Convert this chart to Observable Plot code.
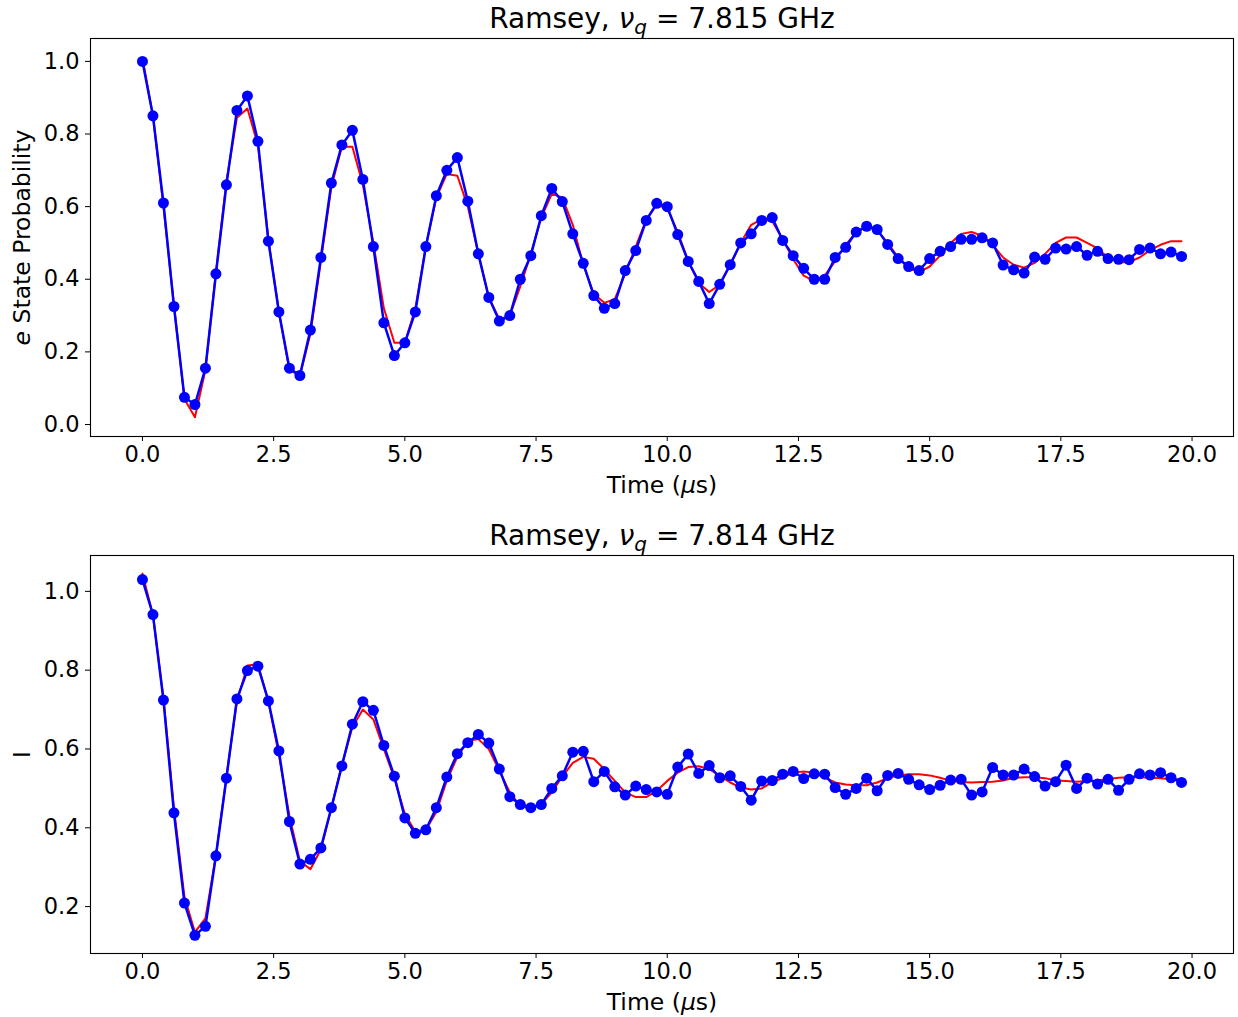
<!DOCTYPE html>
<html>
<head>
<meta charset="utf-8">
<script src="https://cdn.jsdelivr.net/npm/d3@7"></script>
<script src="https://cdn.jsdelivr.net/npm/@observablehq/plot@0.6"></script>
<style>
  html, body { margin: 0; padding: 0; background: white; }
  #chart svg { display: block; }
</style>
</head>
<body>
<div id="chart"></div>
<script>
// ---- data ----
const time = [0,0.2,0.4,0.6,0.8,1,1.2,1.4,1.6,1.8,2,2.2,2.4,2.6,2.8,3,3.2,3.4,3.6,3.8,
  4,4.2,4.4,4.6,4.8,5,5.2,5.4,5.6,5.8,6,6.2,6.4,6.6,6.8,7,7.2,7.4,7.6,7.8,
  8,8.2,8.4,8.6,8.8,9,9.2,9.4,9.6,9.8,10,10.2,10.4,10.6,10.8,11,11.2,11.4,11.6,11.8,
  12,12.2,12.4,12.6,12.8,13,13.2,13.4,13.6,13.8,14,14.2,14.4,14.6,14.8,15,15.2,15.4,15.6,15.8,
  16,16.2,16.4,16.6,16.8,17,17.2,17.4,17.6,17.8,18,18.2,18.4,18.6,18.8,19,19.2,19.4,19.6,19.8];

const probMeasured = [1.0,0.85,0.61,0.325,0.075,0.055,0.155,0.415,0.66,0.865,
  0.905,0.78,0.505,0.31,0.155,0.135,0.26,0.46,0.665,0.77,
  0.81,0.675,0.49,0.28,0.19,0.225,0.31,0.49,0.63,0.70,
  0.735,0.615,0.47,0.35,0.285,0.30,0.40,0.465,0.575,0.65,
  0.614,0.525,0.444,0.355,0.32,0.333,0.424,0.479,0.562,0.609,
  0.60,0.523,0.449,0.394,0.333,0.386,0.44,0.50,0.525,0.562,
  0.57,0.507,0.465,0.43,0.40,0.40,0.46,0.488,0.53,0.546,
  0.537,0.496,0.457,0.435,0.424,0.457,0.477,0.49,0.51,0.51,
  0.514,0.50,0.439,0.426,0.417,0.461,0.455,0.486,0.483,0.49,
  0.466,0.477,0.457,0.455,0.454,0.482,0.486,0.47,0.475,0.463];

const probFit = [1.01,0.85,0.60,0.33,0.07,0.02,0.15,0.42,0.67,0.845,
  0.87,0.77,0.51,0.31,0.15,0.135,0.25,0.45,0.655,0.765,
  0.765,0.66,0.50,0.32,0.225,0.225,0.32,0.49,0.625,0.69,
  0.685,0.60,0.47,0.35,0.29,0.30,0.38,0.47,0.57,0.635,
  0.625,0.55,0.44,0.36,0.335,0.345,0.415,0.49,0.565,0.605,
  0.595,0.53,0.45,0.39,0.365,0.385,0.44,0.50,0.55,0.565,
  0.56,0.51,0.455,0.41,0.395,0.41,0.45,0.495,0.53,0.545,
  0.535,0.50,0.46,0.43,0.42,0.435,0.465,0.50,0.525,0.53,
  0.52,0.495,0.46,0.44,0.432,0.445,0.47,0.50,0.515,0.515,
  0.50,0.485,0.46,0.447,0.447,0.46,0.48,0.495,0.505,0.505];

const iMeasured = [1.03,0.941,0.724,0.438,0.209,0.127,0.15,0.329,0.526,0.727,
  0.799,0.81,0.722,0.595,0.416,0.308,0.32,0.349,0.451,0.557,
  0.663,0.72,0.698,0.609,0.531,0.425,0.386,0.395,0.451,0.529,
  0.588,0.616,0.637,0.615,0.549,0.479,0.459,0.451,0.459,0.50,
  0.532,0.592,0.594,0.517,0.543,0.504,0.483,0.506,0.497,0.491,
  0.485,0.554,0.587,0.538,0.558,0.527,0.532,0.505,0.47,0.519,
  0.52,0.536,0.543,0.525,0.537,0.536,0.502,0.485,0.50,0.526,
  0.494,0.533,0.538,0.523,0.509,0.497,0.508,0.521,0.523,0.483,
  0.491,0.553,0.534,0.534,0.549,0.53,0.506,0.517,0.559,0.50,
  0.526,0.511,0.523,0.495,0.523,0.537,0.534,0.54,0.527,0.515];

const iFit = [1.045,0.94,0.73,0.45,0.225,0.135,0.17,0.33,0.53,0.72,
  0.812,0.815,0.72,0.585,0.43,0.315,0.295,0.345,0.45,0.56,
  0.655,0.70,0.675,0.60,0.525,0.435,0.39,0.395,0.44,0.52,
  0.58,0.62,0.625,0.60,0.545,0.49,0.455,0.448,0.46,0.49,
  0.53,0.565,0.58,0.575,0.549,0.519,0.49,0.478,0.478,0.494,
  0.519,0.54,0.554,0.556,0.549,0.532,0.515,0.502,0.497,0.50,
  0.515,0.527,0.54,0.543,0.54,0.527,0.515,0.51,0.508,0.508,
  0.515,0.526,0.533,0.536,0.536,0.533,0.527,0.519,0.516,0.515,
  0.516,0.517,0.52,0.527,0.528,0.528,0.526,0.52,0.519,0.517,
  0.519,0.52,0.524,0.527,0.528,0.528,0.527,0.526,0.523,0.523];

const xTicks = [0, 2.5, 5, 7.5, 10, 12.5, 15, 17.5, 20];
const probTicks = [0, 0.2, 0.4, 0.6, 0.8, 1.0];
const iTicks = [0.2, 0.4, 0.6, 0.8, 1.0];

const titleLead = "Ramsey, ";
const titleSymbol = "ν";
const titleSub = "q";
const titleTails = [" = 7.815 GHz", " = 7.814 GHz"];
const xLabelParts = ["Time (", "μ", "s)"];
const yLabels = [["e", " State Probability"], ["", "I"]];

// ---- drawing ----
const FONT = "DejaVu Sans";

function panel(measured, fit, yDomain, yTicks, yLabel, titleTail, height, marginBottom) {
  const rows = time.map((t, i) => ({t, v: measured[i], f: fit[i]}));
  const titleStr = titleLead + titleSymbol + titleSub + titleTail;
  const xLabelStr = xLabelParts.join("");
  const yLabelStr = yLabel.join("");
  const svg = Plot.plot({
    width: 1238,
    height,
    marginTop: 38,
    marginLeft: 90,
    marginRight: 5,
    marginBottom,
    style: {fontFamily: FONT, fontSize: "22px", background: "white", color: "black", overflow: "visible"},
    x: {domain: [-0.99, 20.79]},
    y: {domain: yDomain},
    marks: [
      Plot.line(rows, {x: "t", y: "f", stroke: "#ff0000", strokeWidth: 2}),
      Plot.line(rows, {x: "t", y: "v", stroke: "#0000ff", strokeWidth: 2.5}),
      Plot.dot(rows, {x: "t", y: "v", fill: "#0000ff", r: 5.5}),
      Plot.frame({stroke: "black", strokeWidth: 1.1}),
      Plot.axisX({ticks: xTicks, tickFormat: d3.format(".1f"), tickSize: 5, tickPadding: 5, label: null, fontSize: 22.5}),
      Plot.axisY({ticks: yTicks, tickFormat: d3.format(".1f"), tickSize: 5, tickPadding: 6, label: null, fontSize: 22.5}),
      Plot.text([xLabelStr], {text: d => d, frameAnchor: "bottom", dy: 49, lineAnchor: "middle", textAnchor: "middle", fontSize: 23.5}),
      Plot.text([yLabelStr], {text: d => d, frameAnchor: "left", dx: -68, rotate: -90, lineAnchor: "middle", textAnchor: "middle", fontSize: 23.5}),
      Plot.text([titleStr], {text: d => d, frameAnchor: "top", dy: -19, lineAnchor: "middle", textAnchor: "middle", fontSize: 28})
    ]
  });

  // Style mixed-font labels (italic math symbols), keeping real text
  const sel = d3.select(svg);
  sel.selectAll("text").each(function() {
    const el = d3.select(this);
    const txt = this.textContent;
    if (txt === titleStr) {
      el.text(null);
      el.append("tspan").text(titleLead);
      el.append("tspan").attr("font-style", "italic").text(titleSymbol);
      el.append("tspan").attr("font-style", "italic").attr("font-size", 20).attr("dy", 6).text(titleSub);
      el.append("tspan").attr("dy", -6).text(titleTail);
    } else if (txt === xLabelStr) {
      el.text(null);
      el.append("tspan").text(xLabelParts[0]);
      el.append("tspan").attr("font-style", "italic").text(xLabelParts[1]);
      el.append("tspan").text(xLabelParts[2]);
    } else if (txt === yLabelStr && yLabel[0]) {
      el.text(null);
      el.append("tspan").attr("font-style", "italic").text(yLabel[0]);
      el.append("tspan").text(yLabel[1]);
    }
  });
  return svg;
}

const chart = document.getElementById("chart");
chart.appendChild(panel(probMeasured, probFit, [-0.033, 1.063], probTicks, yLabels[0], titleTails[0], 517, 81));
chart.appendChild(panel(iMeasured, iFit, [0.081, 1.091], iTicks, yLabels[1], titleTails[1], 500, 64));
</script>
</body>
</html>
